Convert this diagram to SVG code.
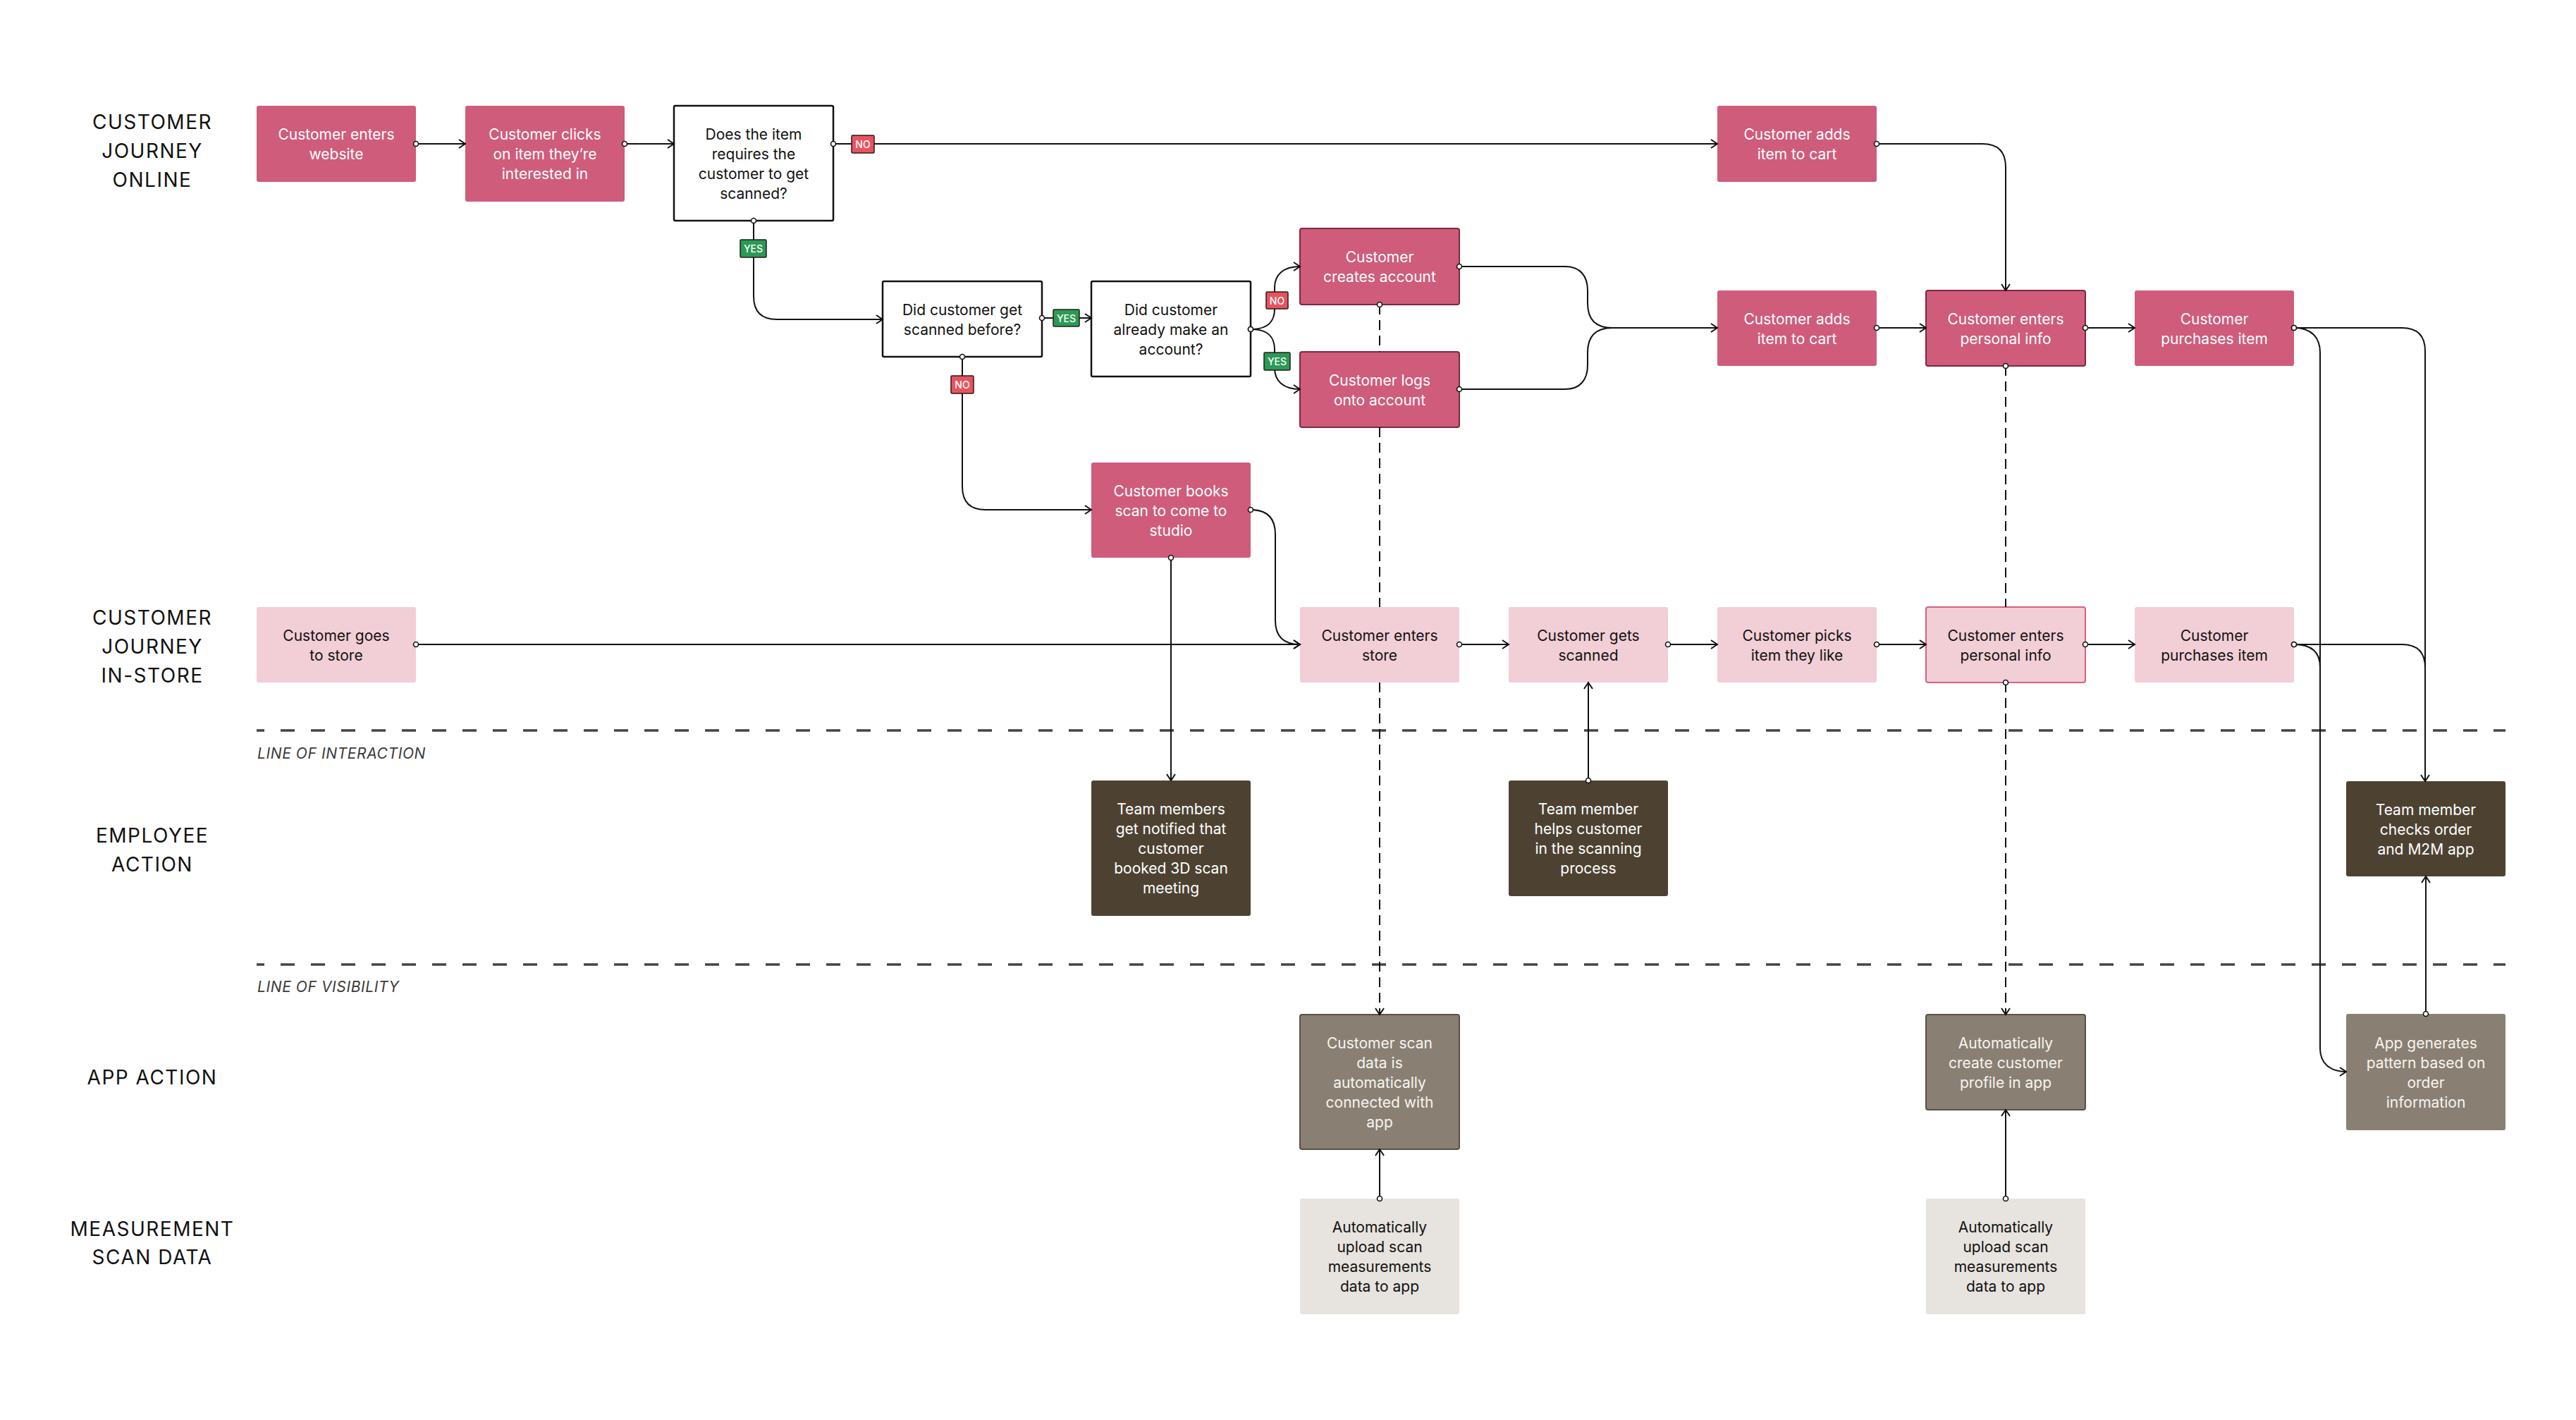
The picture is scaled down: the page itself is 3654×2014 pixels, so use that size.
<svg xmlns="http://www.w3.org/2000/svg" width="3654" height="2014" viewBox="0 0 3654 2014">
<style>
  .on rect{fill:#CF5C7B}
  .on text{fill:#FFFFFF}
  .onb rect{stroke:#7E2740;stroke-width:2}
  .dec rect{fill:#FFFFFF;stroke:#111111;stroke-width:2.5}
  .dec text{fill:#111111}
  .st rect{fill:#F2CED6}
  .st text{fill:#111111}
  .stb rect{stroke:#D9607F;stroke-width:2}
  .em rect{fill:#4D4232}
  .em text{fill:#FFFFFF}
  .ap rect{fill:#898073}
  .ap text{fill:#F8F4EF}
  .apb rect{stroke:#5A5146;stroke-width:2}
  .me rect{fill:#E7E3DF}
  .me text{fill:#111111}
  .node text{font-family:Inter,"Liberation Sans",sans-serif;font-size:21px;text-anchor:middle}
  .lane{font-family:Inter,"Liberation Sans",sans-serif;font-size:28px;letter-spacing:1.5px;fill:#111111;text-anchor:middle}
  .lineLabel{font-family:Inter,"Liberation Sans",sans-serif;font-size:21px;font-style:italic;letter-spacing:0.6px;fill:#3A3A3A}
  .sep{stroke:#444444;stroke-width:3.5;stroke-dasharray:20 23;stroke-dashoffset:9;fill:none}
  .c{fill:none;stroke:#111111;stroke-width:2}
  .dash{stroke-dasharray:14 8}
  .arr{marker-end:url(#arrow)}
  .dot{marker-start:url(#dot)}
  .badge rect{stroke:#2A1A1A;stroke-width:1.5}
  .no rect{fill:#E8535E}
  .yes rect{fill:#2A9A55}
  .badge text{font-family:Inter,"Liberation Sans",sans-serif;font-size:14px;font-weight:500;fill:#FFFFFF;text-anchor:middle}
</style>
<defs>
  <marker id="arrow" markerUnits="userSpaceOnUse" markerWidth="14" markerHeight="16" refX="11" refY="7" orient="auto">
    <path d="M2,1 L11,7 L2,13" fill="none" stroke="#111111" stroke-width="2"/>
  </marker>
  <marker id="dot" markerUnits="userSpaceOnUse" markerWidth="12" markerHeight="12" refX="6" refY="6" orient="auto">
    <circle cx="6" cy="6" r="3.5" fill="#FFFFFF" stroke="#111111" stroke-width="1.6"/>
  </marker>
</defs>
<rect x="0" y="0" width="3654" height="2014" fill="#FFFFFF"/>

<g id="lanes">
  <text class="lane" x="216"><tspan x="216" y="183">CUSTOMER</tspan><tspan x="216" y="224">JOURNEY</tspan><tspan x="216" y="265">ONLINE</tspan></text>
  <text class="lane" x="216"><tspan x="216" y="886">CUSTOMER</tspan><tspan x="216" y="927">JOURNEY</tspan><tspan x="216" y="968">IN-STORE</tspan></text>
  <text class="lane" x="216"><tspan x="216" y="1195">EMPLOYEE</tspan><tspan x="216" y="1236">ACTION</tspan></text>
  <text class="lane" x="216" y="1538">APP ACTION</text>
  <text class="lane" x="216"><tspan x="216" y="1753">MEASUREMENT</tspan><tspan x="216" y="1793">SCAN DATA</tspan></text>
</g>

<g id="separators">
  <line class="sep" x1="364" y1="1036" x2="3554" y2="1036"/>
  <text class="lineLabel" x="365" y="1076">LINE OF INTERACTION</text>
  <line class="sep" x1="364" y1="1368" x2="3554" y2="1368"/>
  <text class="lineLabel" x="365" y="1407">LINE OF VISIBILITY</text>
</g>

<g id="nodes">
  <g id="n-enters-website" class="node on"><rect x="364" y="150" width="226" height="108" rx="3"/><text><tspan x="477" y="198">Customer enters</tspan><tspan x="477" y="226">website</tspan></text></g>
  <g id="n-clicks-item" class="node on"><rect x="660" y="150" width="226" height="136" rx="3"/><text><tspan x="773" y="198">Customer clicks</tspan><tspan x="773" y="226">on item they’re</tspan><tspan x="773" y="254">interested in</tspan></text></g>
  <g id="d-requires-scan" class="node dec"><rect x="956" y="150" width="226" height="163" rx="2"/><text><tspan x="1069" y="197.5">Does the item</tspan><tspan x="1069" y="225.5">requires the</tspan><tspan x="1069" y="253.5">customer to get</tspan><tspan x="1069" y="281.5">scanned?</tspan></text></g>
  <g id="d-scanned-before" class="node dec"><rect x="1252" y="399" width="226" height="107" rx="2"/><text><tspan x="1365" y="446.5">Did customer get</tspan><tspan x="1365" y="474.5">scanned before?</tspan></text></g>
  <g id="d-has-account" class="node dec"><rect x="1548" y="399" width="226" height="135" rx="2"/><text><tspan x="1661" y="446.5">Did customer</tspan><tspan x="1661" y="474.5">already make an</tspan><tspan x="1661" y="502.5">account?</tspan></text></g>
  <g id="n-creates-account" class="node on onb"><rect x="1844" y="324" width="226" height="108" rx="3"/><text><tspan x="1957" y="372">Customer</tspan><tspan x="1957" y="400">creates account</tspan></text></g>
  <g id="n-logs-on" class="node on onb"><rect x="1844" y="499" width="226" height="107" rx="3"/><text><tspan x="1957" y="546.5">Customer logs</tspan><tspan x="1957" y="574.5">onto account</tspan></text></g>
  <g id="n-books-scan" class="node on"><rect x="1548" y="656" width="226" height="135" rx="3"/><text><tspan x="1661" y="703.5">Customer books</tspan><tspan x="1661" y="731.5">scan to come to</tspan><tspan x="1661" y="759.5">studio</tspan></text></g>
  <g id="n-adds-cart-1" class="node on"><rect x="2436" y="150" width="226" height="108" rx="3"/><text><tspan x="2549" y="198">Customer adds</tspan><tspan x="2549" y="226">item to cart</tspan></text></g>
  <g id="n-adds-cart-2" class="node on"><rect x="2436" y="412" width="226" height="107" rx="3"/><text><tspan x="2549" y="459.5">Customer adds</tspan><tspan x="2549" y="487.5">item to cart</tspan></text></g>
  <g id="n-personal-online" class="node on onb"><rect x="2732" y="412" width="226" height="107" rx="3"/><text><tspan x="2845" y="459.5">Customer enters</tspan><tspan x="2845" y="487.5">personal info</tspan></text></g>
  <g id="n-purchases-online" class="node on"><rect x="3028" y="412" width="226" height="107" rx="3"/><text><tspan x="3141" y="459.5">Customer</tspan><tspan x="3141" y="487.5">purchases item</tspan></text></g>

  <g id="s-goes-store" class="node st"><rect x="364" y="861" width="226" height="107" rx="3"/><text><tspan x="477" y="908.5">Customer goes</tspan><tspan x="477" y="936.5">to store</tspan></text></g>
  <g id="s-enters-store" class="node st"><rect x="1844" y="861" width="226" height="107" rx="3"/><text><tspan x="1957" y="908.5">Customer enters</tspan><tspan x="1957" y="936.5">store</tspan></text></g>
  <g id="s-gets-scanned" class="node st"><rect x="2140" y="861" width="226" height="107" rx="3"/><text><tspan x="2253" y="908.5">Customer gets</tspan><tspan x="2253" y="936.5">scanned</tspan></text></g>
  <g id="s-picks-item" class="node st"><rect x="2436" y="861" width="226" height="107" rx="3"/><text><tspan x="2549" y="908.5">Customer picks</tspan><tspan x="2549" y="936.5">item they like</tspan></text></g>
  <g id="s-personal-store" class="node st stb"><rect x="2732" y="861" width="226" height="107" rx="3"/><text><tspan x="2845" y="908.5">Customer enters</tspan><tspan x="2845" y="936.5">personal info</tspan></text></g>
  <g id="s-purchases-store" class="node st"><rect x="3028" y="861" width="226" height="107" rx="3"/><text><tspan x="3141" y="908.5">Customer</tspan><tspan x="3141" y="936.5">purchases item</tspan></text></g>

  <g id="e-notified" class="node em"><rect x="1548" y="1107" width="226" height="192" rx="3"/><text><tspan x="1661" y="1155">Team members</tspan><tspan x="1661" y="1183">get notified that</tspan><tspan x="1661" y="1211">customer</tspan><tspan x="1661" y="1239">booked 3D scan</tspan><tspan x="1661" y="1267">meeting</tspan></text></g>
  <g id="e-helps" class="node em"><rect x="2140" y="1107" width="226" height="164" rx="3"/><text><tspan x="2253" y="1155">Team member</tspan><tspan x="2253" y="1183">helps customer</tspan><tspan x="2253" y="1211">in the scanning</tspan><tspan x="2253" y="1239">process</tspan></text></g>
  <g id="e-checks" class="node em"><rect x="3328" y="1108" width="226" height="135" rx="3"/><text><tspan x="3441" y="1155.5">Team member</tspan><tspan x="3441" y="1183.5">checks order</tspan><tspan x="3441" y="1211.5">and M2M app</tspan></text></g>

  <g id="a-scan-connected" class="node ap apb"><rect x="1844" y="1439" width="226" height="191" rx="3"/><text><tspan x="1957" y="1486.5">Customer scan</tspan><tspan x="1957" y="1514.5">data is</tspan><tspan x="1957" y="1542.5">automatically</tspan><tspan x="1957" y="1570.5">connected with</tspan><tspan x="1957" y="1598.5">app</tspan></text></g>
  <g id="a-profile" class="node ap apb"><rect x="2732" y="1439" width="226" height="135" rx="3"/><text><tspan x="2845" y="1486.5">Automatically</tspan><tspan x="2845" y="1514.5">create customer</tspan><tspan x="2845" y="1542.5">profile in app</tspan></text></g>
  <g id="a-pattern" class="node ap"><rect x="3328" y="1438" width="226" height="165" rx="3"/><text><tspan x="3441" y="1486.5">App generates</tspan><tspan x="3441" y="1514.5">pattern based on</tspan><tspan x="3441" y="1542.5">order</tspan><tspan x="3441" y="1570.5">information</tspan></text></g>

  <g id="m-upload-1" class="node me"><rect x="1844" y="1700" width="226" height="164" rx="3"/><text><tspan x="1957" y="1748">Automatically</tspan><tspan x="1957" y="1776">upload scan</tspan><tspan x="1957" y="1804">measurements</tspan><tspan x="1957" y="1832">data to app</tspan></text></g>
  <g id="m-upload-2" class="node me"><rect x="2732" y="1700" width="226" height="164" rx="3"/><text><tspan x="2845" y="1748">Automatically</tspan><tspan x="2845" y="1776">upload scan</tspan><tspan x="2845" y="1804">measurements</tspan><tspan x="2845" y="1832">data to app</tspan></text></g>
</g>

<g id="connectors">
  <path class="c dot arr" d="M590,204 L660,204"/>
  <path class="c dot arr" d="M886,204 L956,204"/>
  <path class="c dot arr" d="M1182,204 L2436,204"/>
  <path class="c dot arr" d="M1069,313 L1069,420 Q1069,453 1102,453 L1252,453"/>
  <path class="c dot arr" d="M1478,451 L1548,451"/>
  <path class="c dot arr" d="M1365,506 L1365,690 Q1365,723 1398,723 L1548,723"/>
  <path class="c dot arr" d="M1774,467 C1800,467 1808,455 1808,438 L1808,408 C1808,390 1820,378 1844,378"/>
  <path class="c dot arr" d="M1774,467 C1800,467 1808,479 1808,496 L1808,522 C1808,540 1820,552 1844,552"/>
  <path class="c dot arr" d="M2070,378 L2220,378 C2242,378 2252,392 2252,412 L2252,430 C2252,452 2262,465 2287,465 L2436,465"/>
  <path class="c dot" d="M2070,552 L2220,552 C2242,552 2252,538 2252,518 L2252,500 C2252,478 2262,465 2287,465"/>
  <path class="c dot arr" d="M2662,204 L2812,204 Q2845,204 2845,237 L2845,412"/>
  <path class="c dot arr" d="M2662,465 L2732,465"/>
  <path class="c dot arr" d="M2958,465 L3028,465"/>
  <path class="c dot arr" d="M3254,465 C3280,465 3291,480 3291,500 L3291,1487 C3291,1507 3304,1520 3328,1520"/>
  <path class="c dot arr" d="M3254,465 L3407,465 Q3440,465 3440,498 L3440,1108"/>
  <path class="c dot" d="M3254,914 C3280,914 3291,926 3291,946 L3291,960"/>
  <path class="c dot" d="M3254,914 L3407,914 Q3440,914 3440,947 L3440,960"/>
  <path class="c dot arr" d="M590,914 L1844,914"/>
  <path class="c dot arr" d="M1774,723 C1798,723 1809,736 1809,758 L1809,880 C1809,902 1820,914 1844,914"/>
  <path class="c dot arr" d="M1661,791 L1661,1107"/>
  <path class="c dot arr" d="M2070,914 L2140,914"/>
  <path class="c dot arr" d="M2366,914 L2436,914"/>
  <path class="c dot arr" d="M2662,914 L2732,914"/>
  <path class="c dot arr" d="M2958,914 L3028,914"/>
  <path class="c dot arr" d="M2253,1107 L2253,968"/>
  <path class="c dot arr" d="M3441,1438 L3441,1243"/>
  <path class="c dot arr" d="M1957,1700 L1957,1630"/>
  <path class="c dot arr" d="M2845,1700 L2845,1574"/>
  <path class="c dash dot" d="M1957,432 L1957,499"/>
  <path class="c dash" d="M1957,606 L1957,861"/>
  <path class="c dash arr" d="M1957,968 L1957,1439"/>
  <path class="c dash dot" d="M2845,519 L2845,861"/>
  <path class="c dash dot arr" d="M2845,968 L2845,1439"/>

  <g class="badge no"><rect x="1208" y="192" width="32" height="25" rx="1.5"/><text x="1224" y="210">NO</text></g>
  <g class="badge yes"><rect x="1050" y="340" width="37" height="25" rx="1.5"/><text x="1068.5" y="358">YES</text></g>
  <g class="badge yes"><rect x="1494" y="439" width="37" height="24" rx="1.5"/><text x="1512.5" y="456.5">YES</text></g>
  <g class="badge no"><rect x="1349" y="533" width="32" height="25" rx="1.5"/><text x="1365" y="551">NO</text></g>
  <g class="badge no"><rect x="1796" y="414" width="31" height="24" rx="1.5"/><text x="1811.5" y="431.5">NO</text></g>
  <g class="badge yes"><rect x="1793" y="500" width="37" height="25" rx="1.5"/><text x="1811.5" y="518">YES</text></g>
</g>
</svg>
